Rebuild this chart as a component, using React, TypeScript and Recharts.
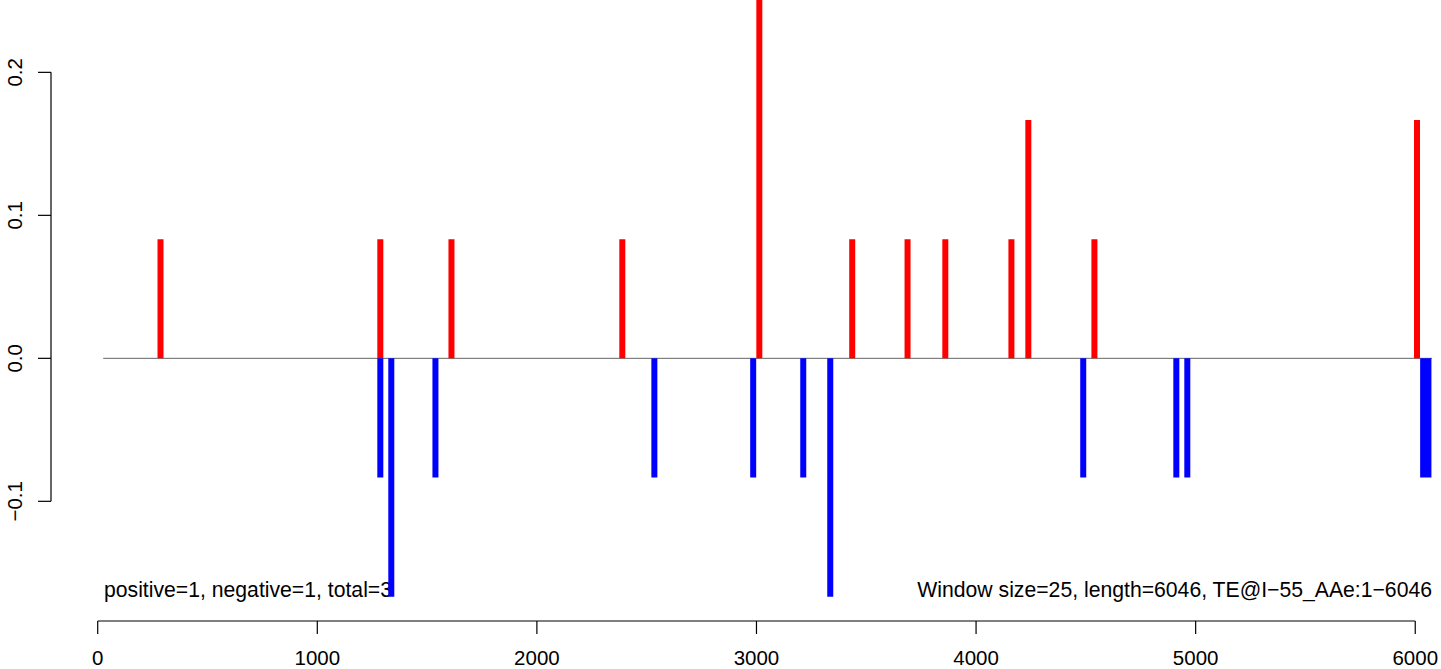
import React from 'react';
import { ComposedChart, Line, XAxis, YAxis, ReferenceLine } from 'recharts';

// window positions and scores
const redX = [286, 1287, 1611, 2389, 3013, 3436, 3688, 3860, 4161, 4238, 4539, 6008];
const redY = [0.0833, 0.0833, 0.0833, 0.0833, 0.2512, 0.0833, 0.0833, 0.0833, 0.0833, 0.1667, 0.0833, 0.1667];
const blueX = [1287, 1337, 1538, 2535, 2985, 3213, 3336, 4488, 4912, 4962, 6036, 6048, 6060];
const blueY = [-0.0833, -0.1667, -0.0833, -0.0833, -0.0833, -0.0833, -0.1667, -0.0833, -0.0833, -0.0833, -0.0833, -0.0833, -0.0833];

const xTicks = [0, 1000, 2000, 3000, 4000, 5000, 6000];
const yTicks = [-0.1, 0, 0.1, 0.2];
const yTickLabels = ['\u22120.1', '0.0', '0.1', '0.2'];

const zeroLine = [25, 6076];
const leftNote = 'positive=1, negative=1, total=3';
const rightNote = 'Window size=25, length=6046, TE@I\u221255_AAe:1\u22126046';

const X_MIN = -212.7;
const X_MAX = 6117.3;
const Y_MIN = -0.1837;
const Y_MAX = 0.2506;

const FONT = '"Liberation Sans", Arial, Helvetica, sans-serif';
const FONT_SIZE = 21.2;

// type="h" style: each spike is 0 -> value, then a gap
const spikes = (xs: number[], ys: number[]) =>
    xs.flatMap((x, i) => [
        { x, y: 0 },
        { x, y: ys[i] },
        { x, y: null },
    ]);

const redData = spikes(redX, redY);
const blueData = spikes(blueX, blueY);

function XTick({ x, y, payload }: any) {
    return (
        <text x={x} y={y + 30.5} textAnchor="middle" fontSize={20.5} fontFamily={FONT} fill="#000">
            {payload.value}
        </text>
    );
}

function YTick({ x, y, payload }: any) {
    const idx = yTicks.findIndex(t => Math.abs(t - payload.value) < 1e-9);
    const label = idx >= 0 ? yTickLabels[idx] : String(payload.value);
    const tx = x - 16;
    return (
        <text
            x={tx}
            y={y}
            transform={`rotate(-90, ${tx}, ${y})`}
            textAnchor="middle"
            fontSize={20.5}
            fontFamily={FONT}
            fill="#000"
        >
            {label}
        </text>
    );
}

export default function App() {
    return (
        <div style={{ position: 'absolute', left: 0, top: 0, width: 1441, height: 669, background: '#fff' }}>
            {/* notes sit under the spikes, as in the original */}
            <svg width={1441} height={669} style={{ position: 'absolute', left: 0, top: 0 }}>
                <text x={104} y={597} fontSize={FONT_SIZE} fontFamily={FONT} fill="#000">
                    {leftNote}
                </text>
                <text x={1432} y={597} textAnchor="end" fontSize={FONT_SIZE} fontFamily={FONT} fill="#000">
                    {rightNote}
                </text>
            </svg>
            <div style={{ position: 'absolute', left: 0, top: 0 }}>
                <ComposedChart width={1441} height={669} margin={{ top: 0, right: 0, bottom: 0, left: 0 }}>
                    <XAxis
                        dataKey="x"
                        type="number"
                        domain={[X_MIN, X_MAX]}
                        allowDataOverflow
                        ticks={xTicks}
                        height={48}
                        axisLine={false}
                        tickLine={{ stroke: '#000', strokeWidth: 1.2 }}
                        tickSize={13}
                        tickMargin={0}
                        tick={<XTick />}
                        interval={0}
                    />
                    <YAxis
                        type="number"
                        domain={[Y_MIN, Y_MAX]}
                        allowDataOverflow
                        ticks={yTicks}
                        width={51}
                        axisLine={false}
                        tickLine={{ stroke: '#000', strokeWidth: 1.2 }}
                        tickSize={13}
                        tickMargin={0}
                        tick={<YTick />}
                        interval={0}
                    />
                    <ReferenceLine
                        segment={[{ x: zeroLine[0], y: 0 }, { x: zeroLine[1], y: 0 }]}
                        stroke="#666"
                        strokeWidth={1}
                        ifOverflow="visible"
                    />
                    <ReferenceLine
                        segment={[{ x: xTicks[0], y: Y_MIN }, { x: xTicks[xTicks.length - 1], y: Y_MIN }]}
                        stroke="#000"
                        strokeWidth={1.2}
                        ifOverflow="visible"
                    />
                    <ReferenceLine
                        segment={[{ x: X_MIN, y: yTicks[0] }, { x: X_MIN, y: yTicks[yTicks.length - 1] }]}
                        stroke="#000"
                        strokeWidth={1.2}
                        ifOverflow="visible"
                    />
                    <Line
                        data={redData}
                        dataKey="y"
                        stroke="#ff0000"
                        strokeWidth={6}
                        strokeLinecap="butt"
                        dot={false}
                        activeDot={false}
                        connectNulls={false}
                        isAnimationActive={false}
                    />
                    <Line
                        data={blueData}
                        dataKey="y"
                        stroke="#0000ff"
                        strokeWidth={6}
                        strokeLinecap="butt"
                        dot={false}
                        activeDot={false}
                        connectNulls={false}
                        isAnimationActive={false}
                    />
                </ComposedChart>
            </div>
        </div>
    );
}
